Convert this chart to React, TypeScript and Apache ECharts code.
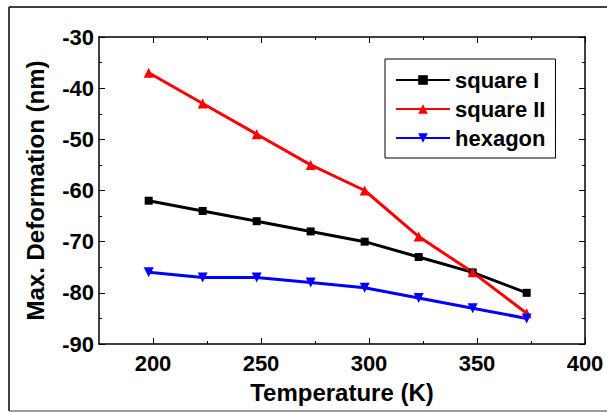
import React, { useEffect, useRef } from "react";
import * as echarts from "echarts";

const temperatures = [198, 223, 248, 273, 298, 323, 348, 373];
const squareI = [-62, -64, -66, -68, -70, -73, -76, -80];
const squareII = [-37, -43, -49, -55, -60, -69, -76, -84];
const hexagon = [-76, -77, -77, -78, -79, -81, -83, -85];
const xMajorTicks = [200, 250, 300, 350, 400];
const xMinorTicks = [225, 275, 325, 375];

const FONT = "'Liberation Sans', Arial, Helvetica, sans-serif";

export default function App() {
  const ref = useRef<HTMLDivElement>(null);
  useEffect(() => {
    if (!ref.current) return;
    const chart = echarts.init(ref.current, null, { renderer: "svg" });
    const pair = (ys: number[]) => temperatures.map((t, i) => [t, ys[i]]);
    const lineSeries = (name: string, ys: number[], color: string, symbol: string, size: number) => ({
      name,
      type: "line",
      data: pair(ys),
      xAxisIndex: 0,
      yAxisIndex: 0,
      color,
      symbol,
      symbolSize: size,
      lineStyle: { color, width: 3 },
      itemStyle: { color },
    });
    const xBase = {
      type: "value",
      min: 175,
      max: 400,
      splitLine: { show: false },
      axisLine: { show: true, onZero: false, lineStyle: { color: "#000", width: 1.5 } },
    };
    chart.setOption({
      animation: false,
      backgroundColor: "#fff",
      textStyle: { fontFamily: FONT },
      grid: { left: 99, top: 37, right: 22, bottom: 68, containLabel: false },
      graphic: [
        { type: "line", shape: { x1: 9, y1: 7, x2: 607, y2: 7 }, style: { stroke: "#000", lineWidth: 1.5 } },
        { type: "line", shape: { x1: 9, y1: 7, x2: 9, y2: 411 }, style: { stroke: "#000", lineWidth: 1.5 } },
        { type: "line", shape: { x1: 9, y1: 411, x2: 607, y2: 411 }, style: { stroke: "#777", lineWidth: 1.5 } },
      ],
      legend: {
        orient: "vertical",
        left: 385,
        top: 59,
        padding: [10, 10, 9, 10],
        itemWidth: 54,
        itemHeight: 12,
        itemGap: 7,
        borderColor: "#000",
        borderWidth: 1,
        backgroundColor: "#fff",
        textStyle: { fontFamily: FONT, fontWeight: "bold", fontSize: 22, color: "#000", lineHeight: 22 },
        data: ["square I", "square II", "hexagon"],
      },
      xAxis: [
        {
          ...xBase,
          position: "bottom",
          name: "Temperature (K)",
          nameLocation: "middle",
          nameGap: 36,
          nameTextStyle: { fontFamily: FONT, fontWeight: "bold", fontSize: 24, color: "#000" },
          axisTick: { show: true, inside: true, length: 6, customValues: xMajorTicks, lineStyle: { color: "#000" } },
          axisLabel: { show: true, customValues: xMajorTicks, margin: 8, fontFamily: FONT, fontWeight: "bold", fontSize: 22, color: "#000" },
        },
        {
          ...xBase,
          position: "bottom",
          axisLine: { show: false },
          axisTick: { show: true, inside: true, length: 3, customValues: xMinorTicks, lineStyle: { color: "#000" } },
          axisLabel: { show: false },
        },
        {
          ...xBase,
          position: "top",
          axisTick: { show: true, inside: true, length: 6, customValues: xMajorTicks, lineStyle: { color: "#000" } },
          axisLabel: { show: false },
        },
        {
          ...xBase,
          position: "top",
          axisLine: { show: false },
          axisTick: { show: true, inside: true, length: 3, customValues: xMinorTicks, lineStyle: { color: "#000" } },
          axisLabel: { show: false },
        },
      ],
      yAxis: [
        {
          type: "value",
          position: "left",
          min: -90,
          max: -30,
          interval: 10,
          name: "Max. Deformation (nm)",
          nameLocation: "middle",
          nameGap: 52,
          nameTextStyle: { fontFamily: FONT, fontWeight: "bold", fontSize: 24, color: "#000" },
          splitLine: { show: false },
          axisLine: { show: true, onZero: false, lineStyle: { color: "#000", width: 1.5 } },
          axisTick: { show: true, inside: true, length: 6, lineStyle: { color: "#000" } },
          minorTick: { show: true, splitNumber: 2, length: 3, lineStyle: { color: "#000" } },
          axisLabel: { margin: 5, fontFamily: FONT, fontWeight: "bold", fontSize: 22, color: "#000" },
        },
        {
          type: "value",
          position: "right",
          min: -90,
          max: -30,
          interval: 10,
          splitLine: { show: false },
          axisLine: { show: true, onZero: false, lineStyle: { color: "#000", width: 1.5 } },
          axisTick: { show: true, inside: true, length: 6, lineStyle: { color: "#000" } },
          minorTick: { show: true, splitNumber: 2, length: 3, lineStyle: { color: "#000" } },
          axisLabel: { show: false },
        },
      ],
      series: [
        lineSeries("square I", squareI, "#000000", "rect", 8),
        lineSeries("square II", squareII, "#ff0000", "triangle", 10),
        {
          ...lineSeries("hexagon", hexagon, "#0000ff", "triangle", 10),
          symbolRotate: 180,
        },
      ],
    });
    return () => chart.dispose();
  }, []);
  return (
    <div
      ref={ref}
      style={{ position: "absolute", left: 0, top: 0, width: 607, height: 412 }}
    />
  );
}
